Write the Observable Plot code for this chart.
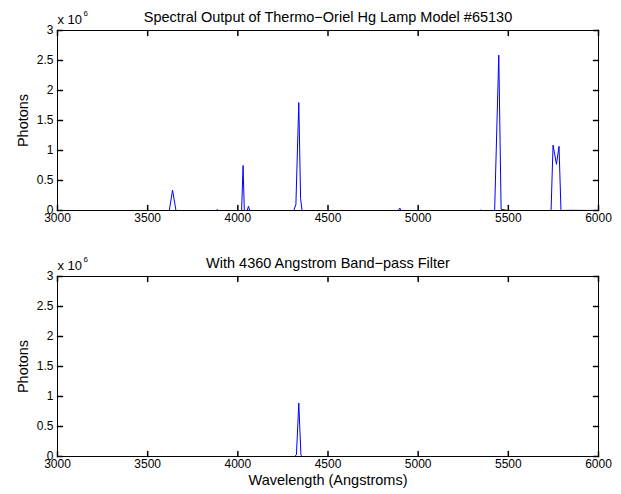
<!DOCTYPE html>
<html>
<head>
<meta charset="utf-8">
<script src="https://cdn.jsdelivr.net/npm/d3@7"></script>
<script src="https://cdn.jsdelivr.net/npm/@observablehq/plot@0.6"></script>
<style>
  html, body { margin: 0; padding: 0; background: #fff; }
  #wrap { position: relative; width: 621px; height: 494px; font-family: "Liberation Sans", Arial, Helvetica, sans-serif; }
  #wrap svg { position: absolute; left: 0; }
</style>
</head>
<body>
<div id="wrap"></div>
<script>
// Wavelength (Angstroms) and photons (x 10^6) — lamp spectrum
const lampWavelength = [3000, 3620, 3638, 3657, 3880, 3887, 3894, 4021, 4029, 4036, 4052, 4059, 4066,
  4310, 4322, 4338, 4348, 4356, 4890, 4898, 4906, 5340, 5347, 5355, 5424, 5447, 5460, 5480, 5495,
  5737, 5748, 5767, 5781, 5792, 5850, 6000];
const lampPhotons = [0, 0, 0.34, 0, 0, 0.015, 0, 0, 0.75, 0, 0, 0.07, 0,
  0, 0.1, 1.8, 0.2, 0, 0, 0.04, 0, 0, 0.005, 0, 0, 2.59, 0.02, 0.01, 0,
  0, 1.09, 0.77, 1.07, 0, 0.003, 0];
// With 4360 A band-pass filter
const filteredWavelength = [3000, 4315, 4325, 4338, 4350, 4357, 6000];
const filteredPhotons = [0, 0, 0.03, 0.89, 0.02, 0, 0];

const xTicks = [3000, 3500, 4000, 4500, 5000, 5500, 6000];
const yTicks = [0, 0.5, 1, 1.5, 2, 2.5, 3];
const titles = ["Spectral Output of Thermo\u2212Oriel Hg Lamp Model #65130", "With 4360 Angstrom Band\u2212pass Filter"];
const yLabel = "Photons";
const xLabel = "Wavelength (Angstroms)";
const multiplier = "x 10";
const exponent = "6";

const lampData = lampWavelength.map((w, i) => ({w, p: lampPhotons[i]}));
const filteredData = filteredWavelength.map((w, i) => ({w, p: filteredPhotons[i]}));

const font = '"Liberation Sans", Arial, Helvetica, sans-serif';
const tickShape = {draw(context, l) { context.moveTo(0, 0); context.lineTo(0, -l); }};
const tickLen = 5;

function panel(data, title, marginTop, marginBottom, withXLabel) {
  const marks = [
    Plot.line(data, {x: "w", y: "p", stroke: "#0000ff", strokeWidth: 1}),
    Plot.frame({stroke: "#000", strokeWidth: 1}),
    // inward tick marks on all four sides
    Plot.vector(xTicks, {x: d => d, frameAnchor: "bottom", rotate: 0, length: tickLen, anchor: "start", shape: tickShape, stroke: "#000"}),
    Plot.vector(xTicks, {x: d => d, frameAnchor: "top", rotate: 180, length: tickLen, anchor: "start", shape: tickShape, stroke: "#000"}),
    Plot.vector(yTicks, {y: d => d, frameAnchor: "left", rotate: 90, length: tickLen, anchor: "start", shape: tickShape, stroke: "#000"}),
    Plot.vector(yTicks, {y: d => d, frameAnchor: "right", rotate: -90, length: tickLen, anchor: "start", shape: tickShape, stroke: "#000"}),
    // tick labels
    Plot.axisX(xTicks, {anchor: "bottom", tickSize: 0, tickPadding: 3, fontSize: 12, tickFormat: d => String(d), label: null, fill: "#000"}),
    Plot.axisY(yTicks, {anchor: "left", tickSize: 0, tickPadding: 4, fontSize: 12, tickFormat: d => String(d), label: null, fill: "#000"}),
    Plot.text([title], {frameAnchor: "top", lineAnchor: "bottom", dy: -9, fontSize: 14.5, fill: "#000"}),
    Plot.text([yLabel], {frameAnchor: "left", rotate: -90, dx: -34, lineAnchor: "middle", textAnchor: "middle", fontSize: 14.5, fill: "#000"}),
    Plot.text([multiplier], {frameAnchor: "top-left", textAnchor: "start", lineAnchor: "bottom", dy: -6.5, dx: 0, fontSize: 13, fill: "#000"}),
    Plot.text([exponent], {frameAnchor: "top-left", textAnchor: "start", lineAnchor: "bottom", dy: -14.5, dx: 26, fontSize: 8, fill: "#000"})
  ];
  if (withXLabel) {
    marks.push(Plot.text([xLabel], {frameAnchor: "bottom", lineAnchor: "bottom", dy: 28, fontSize: 14.5, fill: "#000"}));
  }
  return Plot.plot({
    width: 621,
    height: 247,
    marginLeft: 57,
    marginRight: 23,
    marginTop,
    marginBottom,
    style: {fontFamily: font, background: "#fff", overflow: "visible"},
    x: {domain: [3000, 6000]},
    y: {domain: [0, 3]},
    marks
  });
}

const wrap = document.getElementById("wrap");
const p1 = panel(lampData, titles[0], 30, 37, false);
p1.style.top = "0px";
wrap.appendChild(p1);
const p2 = panel(filteredData, titles[1], 29, 38, true);
p2.style.top = "247px";
wrap.appendChild(p2);
</script>
</body>
</html>
